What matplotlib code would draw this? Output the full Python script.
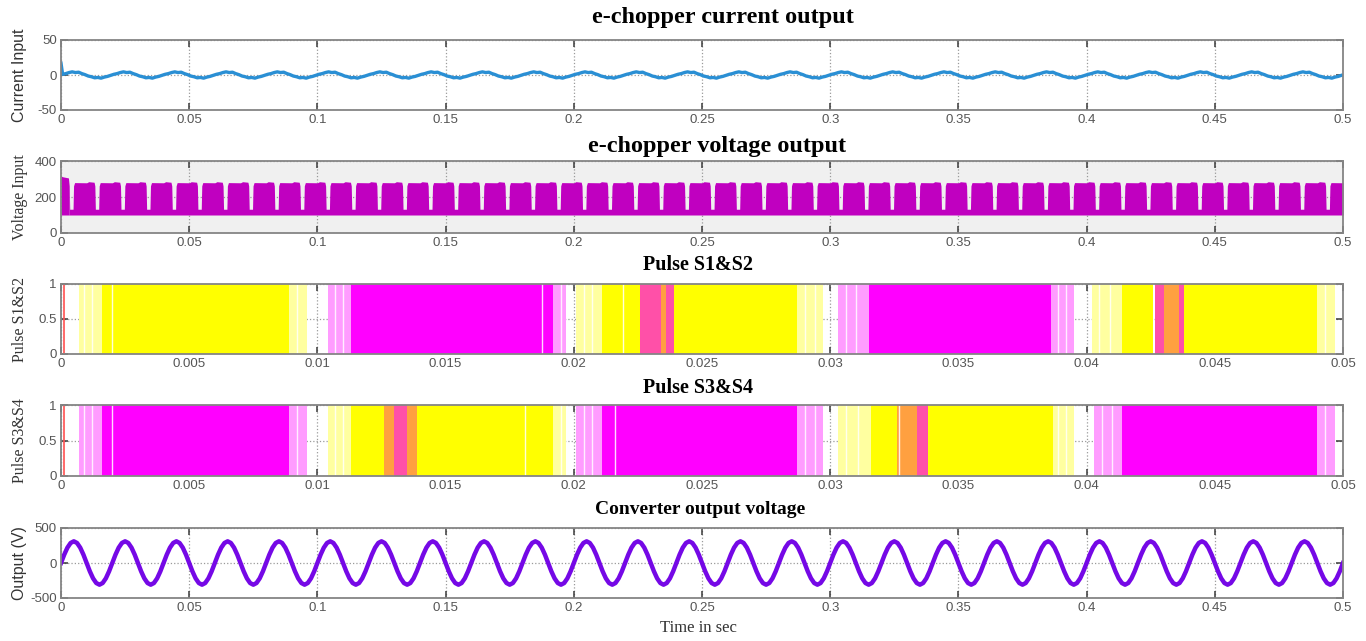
import numpy as np
import matplotlib
matplotlib.use('Agg')
import matplotlib.pyplot as plt
from matplotlib.ticker import FuncFormatter

# ---------------- data ----------------
t_end = 0.5
pulse_end = 0.05

# chopper current: one 20 ms cycle (1.25 ms steps), repeats 25 times
current_period = 0.02
current_cycle = [1.0, 2.0, 3.5, 4.5, 3.5, 4.0, 2.0, 0.5, -1.5, -2.5, -4.0, -3.5, -4.5, -3.0, -2.0, -0.5]
current_spike = 17.0
n_current = 25

# chopper voltage: upper edge of one 10 ms switching block, lower edge of the band
volt_period = 0.01
volt_phase = [0.0, 0.0003, 0.0008, 0.0029, 0.0032, 0.0034, 0.0047, 0.0049, 0.0053, 0.0100]
volt_upper = [279, 281, 285, 282, 262, 132, 132, 262, 280, 279]
volt_lower = 100
volt_first_t = [0.0, 0.0008, 0.0029, 0.0032]
volt_first_v = [315, 312, 306, 262]
n_volt = 50

# converter output: one 50 Hz cycle (1.25 ms steps), repeats 25 times
out_period = 0.02
out_cycle = [0, 119, 219, 286, 310, 286, 219, 119, 0, -119, -219, -286, -310, -286, -219, -119]
n_out = 25

# pulse S1&S2 (time intervals, s)
s12_yellow = [(0.0016, 0.0089), (0.0211, 0.0226), (0.0239, 0.0287), (0.0414, 0.0426), (0.0438, 0.0490)]
s12_yellow_light = [(0.0007, 0.0016), (0.0089, 0.0096), (0.0201, 0.0211), (0.0287, 0.0297),
                    (0.0402, 0.0414), (0.0490, 0.0497)]
s12_magenta = [(0.0113, 0.0192), (0.0315, 0.0386)]
s12_magenta_light = [(0.0104, 0.0113), (0.0192, 0.0197), (0.0303, 0.0315), (0.0386, 0.0395)]
s12_pink = [(0.0226, 0.0239), (0.04265, 0.0430), (0.0436, 0.0438)]
s12_orange = [(0.0430, 0.0436), (0.0234, 0.0236)]
s12_white = [0.0009, 0.0012, 0.0020, 0.0092, 0.0107, 0.0110, 0.01875, 0.0195, 0.0204, 0.0207,
             0.0219, 0.0290, 0.0294, 0.0306, 0.0310, 0.0389, 0.0392, 0.0405, 0.0409, 0.0493]

# pulse S3&S4
s34_magenta = [(0.0016, 0.0089), (0.0211, 0.0287), (0.0414, 0.0490)]
s34_magenta_light = [(0.0007, 0.0016), (0.0089, 0.0096), (0.0201, 0.0211), (0.0287, 0.0297),
                     (0.0403, 0.0414), (0.0490, 0.0497)]
s34_yellow = [(0.0113, 0.0126), (0.0139, 0.0192), (0.0316, 0.0326), (0.0338, 0.0387)]
s34_yellow_light = [(0.0104, 0.0113), (0.0192, 0.0197), (0.0303, 0.0316), (0.0387, 0.0395)]
s34_pink = [(0.0130, 0.0135), (0.0334, 0.0338)]
s34_orange = [(0.0126, 0.0130), (0.0135, 0.0139), (0.0326, 0.0334)]
s34_white = [0.0009, 0.0012, 0.0020, 0.0092, 0.0107, 0.0110, 0.0181, 0.0195, 0.0204, 0.0207,
             0.0216, 0.0290, 0.0294, 0.0306, 0.0311, 0.0327, 0.0389, 0.0392, 0.0406, 0.0410, 0.0493]
first_red = 0.0001

x_ticks_long = [0, 0.05, 0.1, 0.15, 0.2, 0.25, 0.3, 0.35, 0.4, 0.45, 0.5]
x_ticks_short = [0, 0.005, 0.01, 0.015, 0.02, 0.025, 0.03, 0.035, 0.04, 0.045, 0.05]

# ---------------- figure ----------------
plt.rcParams['font.family'] = ['Liberation Sans', 'DejaVu Sans']
fig = plt.figure(figsize=(13.66, 6.41), dpi=100)

W, H = 1366.0, 641.0
left, width = 61 / W, 1282 / W
# (top px, bottom px) of each axes box
boxes = [(40, 110), (161, 233), (284, 354), (405, 476), (528, 598)]
axes = [fig.add_axes([left, 1 - b / H, width, (b - t) / H]) for t, b in boxes]
ax1, ax2, ax3, ax4, ax5 = axes

fmt = FuncFormatter(lambda v, p: '%g' % round(v, 4))
for ax in axes:
    ax.set_axisbelow(True)
    ax.grid(True, linestyle=':', color='#9a9a9a', linewidth=0.9)
    ax.tick_params(direction='in', top=True, right=True, length=5, width=1.1,
                   color='#3a3a3a', labelsize=9.5, labelcolor='#555555', pad=3)
    for s in ax.spines.values():
        s.set_color('#858585')
        s.set_linewidth(1.3)
    ax.xaxis.set_major_formatter(fmt)
    ax.yaxis.set_major_formatter(fmt)

# current
cur_step = current_period / len(current_cycle)
cur_t = [0.0]
cur_v = [current_spike]
for k in range(n_current):
    for i, v in enumerate(current_cycle):
        cur_t.append(k * current_period + i * cur_step + cur_step * 0.5)
        cur_v.append(v)
ax1.plot(cur_t, cur_v, color='#2a8fd4', linewidth=2.4)
ax1.set_xlim(0, t_end)
ax1.set_ylim(-50, 50)
ax1.set_xticks(x_ticks_long)
ax1.set_yticks([-50, 0, 50])

# voltage
ax2.set_facecolor('#f0f0f0')
vt, vu = [], []
for k in range(n_volt):
    for ph, u in zip(volt_phase, volt_upper):
        vt.append(k * volt_period + ph)
        vu.append(u)
vt = np.array(vt)
vu = np.array(vu)
keep = vt >= volt_first_t[-1]
ax2.fill_between(vt[keep], volt_lower, vu[keep], color='#c000c0', linewidth=0)
ax2.fill_between(volt_first_t, volt_lower, volt_first_v, color='#c000c0', linewidth=0)
ax2.set_xlim(0, t_end)
ax2.set_ylim(0, 400)
ax2.set_xticks(x_ticks_long)
ax2.set_yticks([0, 200, 400])


def draw_pulses(ax, groups, whites):
    for spans, col in groups:
        for a, b in spans:
            ax.axvspan(a, b, color=col, linewidth=0)
    for w in whites:
        ax.axvline(w, color='white', linewidth=1.0, alpha=0.85)
    ax.axvline(first_red, color='#ff5050', linewidth=1.2)
    ax.set_xlim(0, pulse_end)
    ax.set_ylim(0, 1)
    ax.set_xticks(x_ticks_short)
    ax.set_yticks([0, 0.5, 1])


draw_pulses(ax3, [(s12_yellow_light, '#ffffa0'), (s12_magenta_light, '#ff9cff'),
                  (s12_yellow, '#ffff00'), (s12_magenta, '#ff00ff'),
                  (s12_pink, '#ff50a8'), (s12_orange, '#ffa040')], s12_white)
draw_pulses(ax4, [(s34_yellow_light, '#ffffa0'), (s34_magenta_light, '#ff9cff'),
                  (s34_yellow, '#ffff00'), (s34_magenta, '#ff00ff'),
                  (s34_pink, '#ff50a8'), (s34_orange, '#ffa040')], s34_white)

# converter output
out_step = out_period / len(out_cycle)
ot, ov = [], []
for k in range(n_out):
    for i, v in enumerate(out_cycle):
        ot.append(k * out_period + i * out_step)
        ov.append(v)
ot.append(t_end)
ov.append(out_cycle[0])
ax5.plot(ot, ov, color='#7508e6', linewidth=3.2)
ax5.set_xlim(0, t_end)
ax5.set_ylim(-500, 500)
ax5.set_xticks(x_ticks_long)
ax5.set_yticks([-500, 0, 500])

# titles and labels
serif = ['Liberation Serif', 'DejaVu Serif']
fig.text(723 / W, 1 - 18 / H, 'e-chopper current output', ha='center', va='center',
         family=serif, fontweight='bold', fontsize=17.5)
fig.text(717 / W, 1 - 146 / H, 'e-chopper voltage output', ha='center', va='center',
         family=serif, fontweight='bold', fontsize=17.5)
fig.text(698 / W, 1 - 265 / H, 'Pulse S1&S2', ha='center', va='center',
         family=serif, fontweight='bold', fontsize=14.5)
fig.text(698 / W, 1 - 388 / H, 'Pulse S3&S4', ha='center', va='center',
         family=serif, fontweight='bold', fontsize=14.5)
fig.text(700 / W, 1 - 510 / H, 'Converter output voltage', ha='center', va='center',
         family=serif, fontweight='bold', fontsize=14)
fig.text(698 / W, 1 - 628 / H, 'Time in sec', ha='center', va='center',
         family=serif, fontsize=12, color='#333333')

ylabels = [('Current Input', ['Liberation Sans']), ('Voltage Input', serif),
           ('Pulse S1&S2', serif), ('Pulse S3&S4', serif), ('Output (V)', ['Liberation Sans'])]
for (t, b), (lab, fam) in zip(boxes, ylabels):
    fig.text(20 / W, 1 - (t + b) / 2 / H, lab, rotation=90, ha='center', va='center',
             family=fam, fontsize=11.5, color='#333333')

fig.savefig('out.png', dpi=100)
